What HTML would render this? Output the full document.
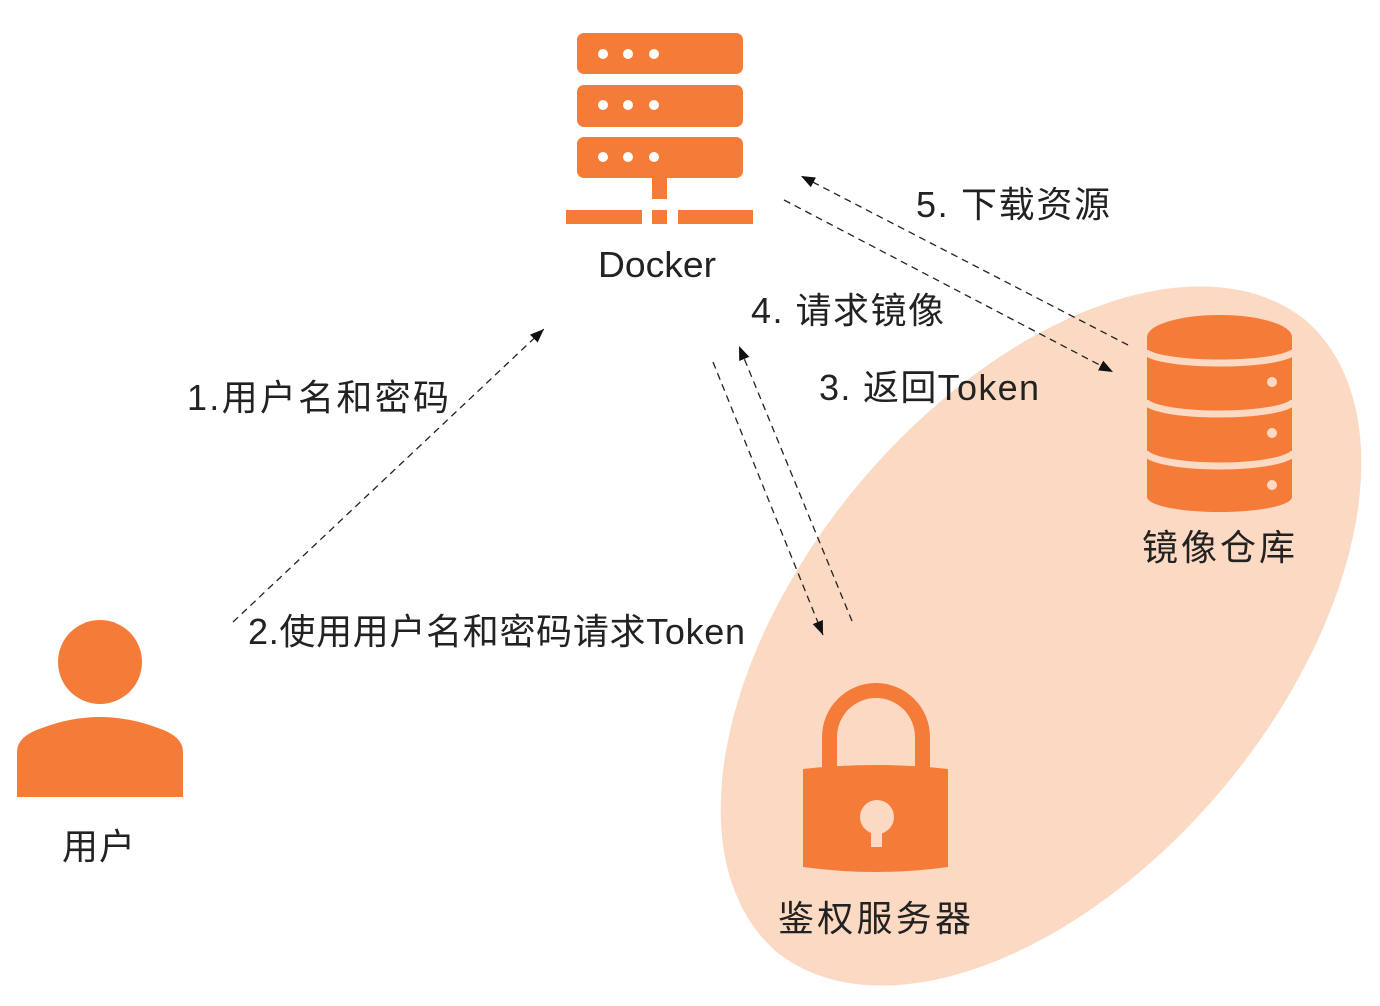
<!DOCTYPE html>
<html>
<head>
<meta charset="utf-8">
<style>
  html,body{margin:0;padding:0;background:#fff;width:1380px;height:1006px;overflow:hidden;}
  svg{display:block;position:absolute;left:0;top:0;}
  text{font-family:"Liberation Sans","Noto Sans CJK SC",sans-serif;fill:#222;}
</style>
</head>
<body>
<svg width="1380" height="1006" viewBox="0 0 1380 1006" xmlns="http://www.w3.org/2000/svg">
  <defs>
    <marker id="ah" markerUnits="userSpaceOnUse" markerWidth="15" markerHeight="11" refX="14" refY="5.5" orient="auto">
      <path d="M0,0 L14,5.5 L0,11 z" fill="#111"/>
    </marker>
  </defs>
  <rect width="1380" height="1006" fill="#fff"/>

  <!-- peach ellipse (path, no transform) -->
  <path d="M1305.8,320.4 A412,240 -50 0 1 776.2,951.6 A412,240 -50 0 1 1305.8,320.4 Z" fill="#FCD9C3"/>

  <!-- Docker server icon -->
  <g fill="#F47C38">
    <rect x="577" y="33" width="166" height="41" rx="7"/>
    <rect x="577" y="85" width="166" height="42" rx="7"/>
    <rect x="577" y="137" width="166" height="41" rx="7"/>
    <rect x="652" y="176" width="15" height="23"/>
    <rect x="566" y="210" width="76" height="14"/>
    <rect x="652" y="210" width="15" height="14"/>
    <rect x="678" y="210" width="75" height="14"/>
  </g>
  <g fill="#fff">
    <circle cx="603" cy="54" r="5"/><circle cx="628" cy="54" r="5"/><circle cx="654" cy="54" r="5"/>
    <circle cx="603" cy="105" r="5"/><circle cx="628" cy="105" r="5"/><circle cx="654" cy="105" r="5"/>
    <circle cx="603" cy="157" r="5"/><circle cx="628" cy="157" r="5"/><circle cx="654" cy="157" r="5"/>
  </g>
  <text x="598" y="277" font-size="36" textLength="118" lengthAdjust="spacingAndGlyphs">Docker</text>

  <!-- Database icon -->
  <g fill="#F47C38">
    <rect x="1147" y="337" width="145" height="160"/>
    <ellipse cx="1219.5" cy="337" rx="72.5" ry="22"/>
    <ellipse cx="1219.5" cy="497" rx="72.5" ry="15"/>
  </g>
  <g fill="none" stroke="#FCD9C3" stroke-width="7">
    <path d="M1145,350 A74.5,13 0 0 0 1294,350"/>
    <path d="M1145,400 A74.5,14 0 0 0 1294,400"/>
    <path d="M1145,451 A74.5,15 0 0 0 1294,451"/>
  </g>
  <g fill="#FCD9C3">
    <circle cx="1272" cy="382" r="5"/>
    <circle cx="1272" cy="433" r="5"/>
    <circle cx="1272" cy="485" r="5"/>
  </g>
  <text x="1142" y="560" font-size="36" textLength="153" lengthAdjust="spacing">镜像仓库</text>

  <!-- Lock icon -->
  <path d="M822,772 L822,737 A54,54 0 0 1 930,737 L930,772 L915,772 L915,737 A39,39 0 0 0 837,737 L837,772 Z" fill="#F47C38"/>
  <path d="M803,769 Q876,761 948,769 L948,867 Q876,877 803,867 Z" fill="#F47C38"/>
  <circle cx="877" cy="817" r="17" fill="#FCD9C3"/>
  <rect x="871" y="822" width="11" height="25" fill="#FCD9C3"/>
  <text x="778" y="931" font-size="36" textLength="193" lengthAdjust="spacing">鉴权服务器</text>

  <!-- User icon -->
  <circle cx="100" cy="662" r="42" fill="#F47C38"/>
  <path d="M17,797 L17,752 Q17,736 42,728 Q100,706 158,728 Q183,736 183,752 L183,797 Z" fill="#F47C38"/>
  <text x="62" y="859" font-size="36" textLength="73" lengthAdjust="spacing">用户</text>

  <!-- Arrows -->
  <g stroke="#222" stroke-width="1.3" stroke-dasharray="7,5" fill="none">
    <line x1="233" y1="622" x2="544" y2="329" marker-end="url(#ah)"/>
    <line x1="713" y1="362" x2="823" y2="635" marker-end="url(#ah)"/>
    <line x1="852" y1="621" x2="739" y2="346" marker-end="url(#ah)"/>
    <line x1="784" y1="200" x2="1113" y2="372" marker-end="url(#ah)"/>
    <line x1="1128" y1="345" x2="801" y2="176" marker-end="url(#ah)"/>
  </g>

  <!-- Labels -->
  <text x="916" y="217" font-size="36" textLength="194" lengthAdjust="spacing">5. 下载资源</text>
  <text x="751" y="323" font-size="36" textLength="193" lengthAdjust="spacing">4. 请求镜像</text>
  <text x="819" y="400" font-size="36" textLength="220" lengthAdjust="spacing">3. 返回Token</text>
  <text x="187" y="410" font-size="36" textLength="262" lengthAdjust="spacing">1.用户名和密码</text>
  <text x="248" y="644" font-size="36" textLength="497" lengthAdjust="spacing">2.使用用户名和密码请求Token</text>
</svg>
</body>
</html>
